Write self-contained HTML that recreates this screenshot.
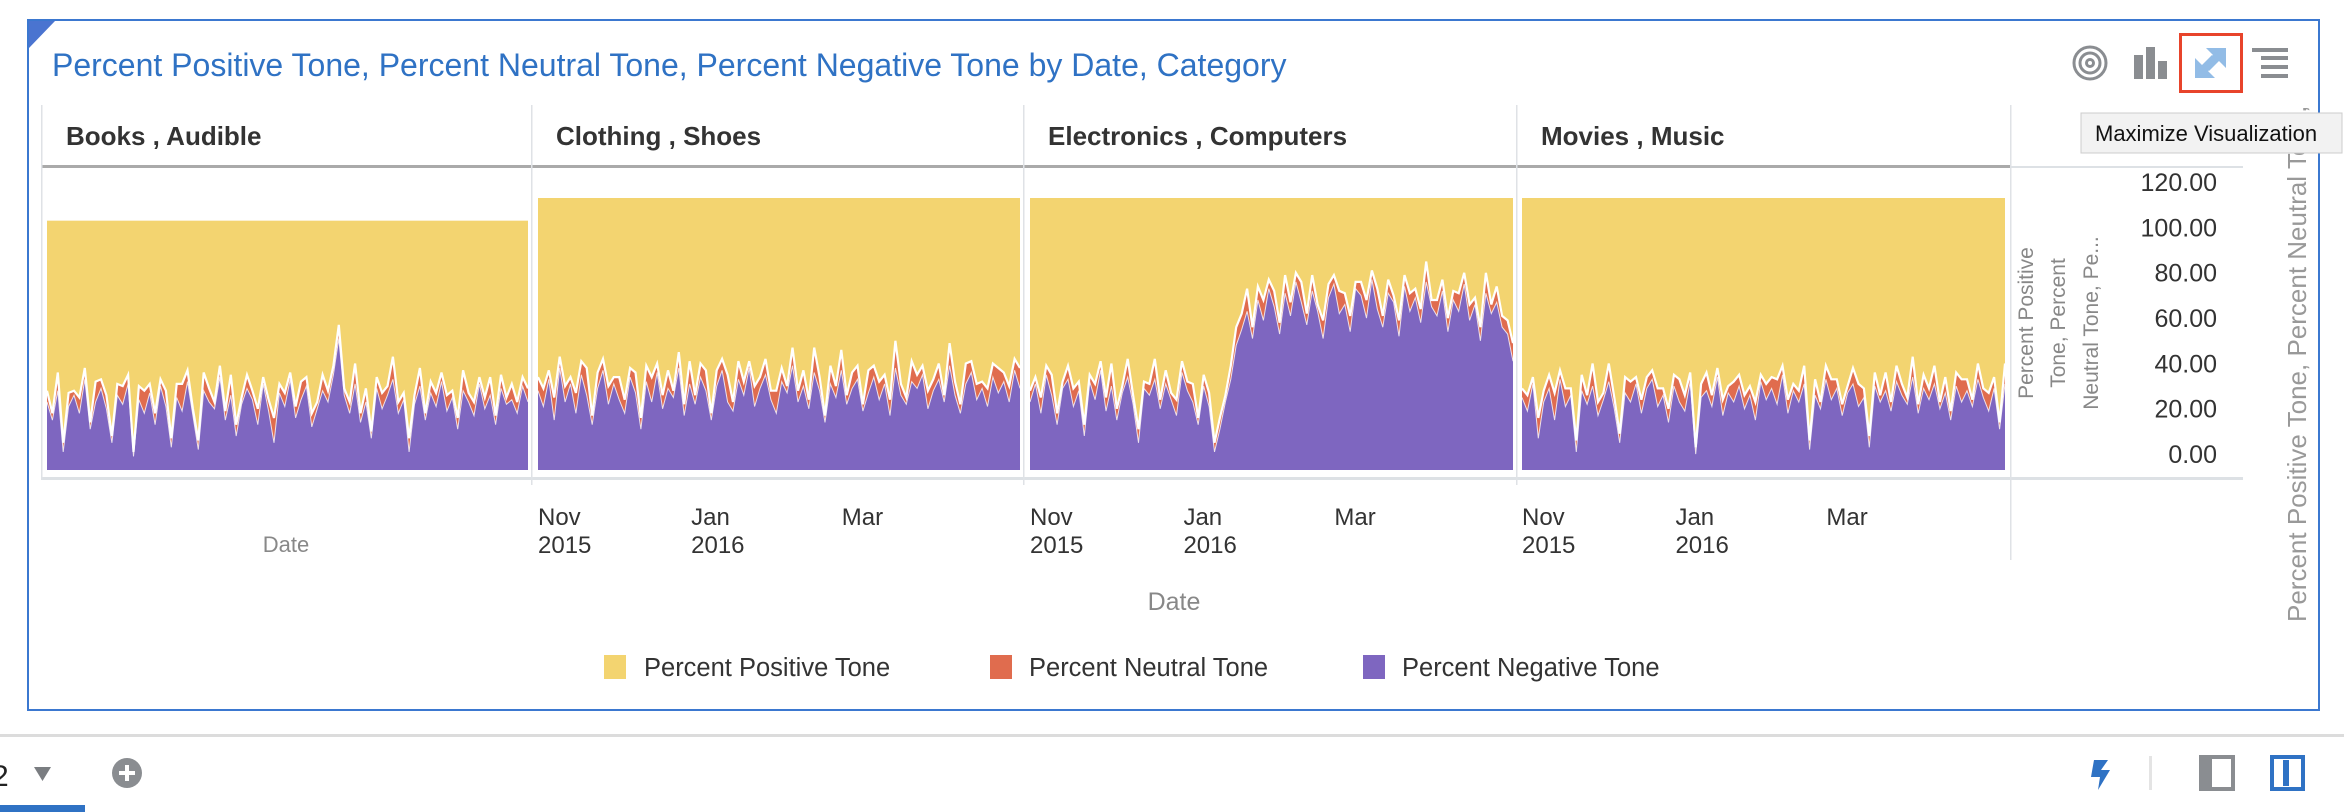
<!DOCTYPE html>
<html><head><meta charset="utf-8">
<style>
html,body{margin:0;padding:0;background:#fff;}
body{width:2344px;height:812px;overflow:hidden;position:relative;font-family:"Liberation Sans",sans-serif;}
svg{position:absolute;left:0;top:0;}
</style></head>
<body>
<svg id="chart" width="2344" height="812" viewBox="0 0 2344 812" font-family="Liberation Sans, sans-serif">
  <defs><clipPath id="titleClip"><rect x="2270" y="108" width="60" height="600"/></clipPath></defs>
  <rect x="28" y="20" width="2291" height="690" fill="#fff" stroke="#3b78d0" stroke-width="2"/>
  <polygon points="29,21 55,21 29,48" fill="#4a74d0"/>
  <text x="52" y="76" font-size="32" fill="#2f72c4">Percent Positive Tone, Percent Neutral Tone, Percent Negative Tone by Date, Category</text>

  <g fill="none" stroke="#8a8d91" stroke-width="3">
    <circle cx="2090" cy="63" r="16"/><circle cx="2090" cy="63" r="10"/><circle cx="2090" cy="63" r="3.5"/>
  </g>
  <g fill="#8a8d91">
    <rect x="2134" y="55" width="9" height="24"/><rect x="2146" y="47" width="9" height="32"/><rect x="2158" y="61" width="9" height="18"/>
  </g>
  <g>
    <rect x="2180.5" y="34.5" width="61" height="57" fill="#fff" stroke="#e8442b" stroke-width="3"/>
    <polygon points="2226,48 2226,68 2219,61 2209,71 2203,65 2213,55 2206,48" fill="#92bce6"/>
    <polygon points="2195,78 2195,58 2202,65 2212,55 2218,61 2208,71 2215,78" fill="#92bce6"/>
  </g>
  <g fill="#8a8d91">
    <rect x="2252" y="48" width="36" height="4"/><rect x="2261" y="56" width="27" height="4"/><rect x="2261" y="65" width="27" height="4"/><rect x="2261" y="74" width="27" height="4"/>
  </g>

  <g id="facets"></g>
  <g id="axes"></g>

  <g clip-path="url(#titleClip)">
  <text transform="translate(2306,622) rotate(-90)" font-size="26" fill="#999">Percent Positive Tone, Percent Neutral Tone, Percent Negative Tone</text>
  </g>

  <g>
    <rect x="2081" y="113" width="261" height="40" fill="#f2f2f2" stroke="#ccc" stroke-width="1"/>
    <text x="2095" y="141" font-size="22" fill="#111">Maximize Visualization</text>
  </g>

  <g>
    <g><rect x="604" y="655" width="22" height="24" fill="#f3d470"/><text x="644" y="676" font-size="25.5" fill="#333">Percent Positive Tone</text></g>
    <g><rect x="990" y="655" width="22" height="24" fill="#e06c4e"/><text x="1029" y="676" font-size="25.5" fill="#333">Percent Neutral Tone</text></g>
    <g><rect x="1363" y="655" width="22" height="24" fill="#7e66c0"/><text x="1402" y="676" font-size="25.5" fill="#333">Percent Negative Tone</text></g>
  </g>

  <rect x="0" y="734" width="2344" height="3" fill="#dcdcdc"/>
  <text x="-8" y="786" font-size="30" fill="#222">2</text>
  <polygon points="34,767 51,767 42.5,781" fill="#7a7d81"/>
  <g><circle cx="127" cy="773" r="15" fill="#8a8d91"/><rect x="119" y="771" width="16" height="4" fill="#fff"/><rect x="125" y="765" width="4" height="16" fill="#fff"/></g>
  <rect x="0" y="805" width="85" height="7" fill="#2f72c4"/>
  <polygon points="2094,760 2108,760 2101,770 2110,770 2098,790 2100,777 2091,777" fill="#2f72c4"/>
  <rect x="2149" y="756" width="3" height="34" fill="#e4e4e4"/>
  <g><rect x="2201" y="757" width="32" height="32" fill="none" stroke="#8a8d91" stroke-width="4"/><rect x="2201" y="757" width="11" height="32" fill="#8a8d91"/></g>
  <g><rect x="2272" y="757" width="31" height="32" fill="none" stroke="#2f72c4" stroke-width="4"/><rect x="2283" y="760" width="6" height="26" fill="#2f72c4"/></g>
</svg>
<script>
const categories = ["Books , Audible","Clothing , Shoes","Electronics , Computers","Movies , Music"];
const totals = [110,120,120,120];
const negBooks = [30,22,35,8,28,33,25,40,18,30,36,27,12,33,29,38,6,31,25,34,20,37,28,10,32,26,39,24,9,35,30,27,41,22,33,15,29,36,31,20,38,26,12,34,28,40,23,31,37,19,27,35,30,42,58,33,25,38,21,30,14,36,27,33,40,25,31,8,29,37,22,34,28,39,26,32,18,35,30,24,38,27,33,20,36,29,31,25,37,30];
const neuBooks = [5,3,8,4,6,2,7,5,3,9,4,6,3,5,8,4,2,6,10,4,5,3,7,4,6,12,5,3,4,8,6,3,5,4,9,5,3,6,4,7,3,5,11,4,6,3,5,8,4,6,3,7,5,4,6,3,5,9,4,6,3,5,7,4,10,5,3,6,4,8,3,5,6,4,7,3,5,9,4,6,3,5,8,4,6,3,7,5,4,6];
const negClothing = [35,28,40,22,45,30,38,25,42,33,20,36,44,29,38,31,25,41,34,18,39,30,43,27,36,32,45,24,38,29,41,35,22,37,44,30,26,40,33,45,28,36,42,31,25,39,34,46,30,37,27,43,35,21,38,32,44,29,36,40,26,34,41,31,38,24,45,33,29,39,36,42,27,35,40,30,46,33,25,38,43,31,36,28,41,34,39,30,44,36];
const neuClothing = [6,8,4,10,5,7,3,9,6,12,4,7,5,8,3,10,6,4,9,5,7,11,4,6,8,3,7,5,10,4,6,9,3,7,5,12,4,8,6,3,9,5,7,4,10,6,3,8,5,7,4,11,6,3,8,5,9,4,7,6,3,10,5,8,4,7,12,5,3,9,6,4,8,5,7,3,10,6,4,9,5,7,3,8,6,11,4,7,5,9];
const negElectronics = [30,38,25,42,33,20,36,40,28,35,15,39,31,44,26,37,22,34,41,29,12,36,33,40,27,38,31,24,43,35,30,20,37,28,8,18,30,40,55,62,70,58,75,66,80,72,60,78,68,83,74,64,79,70,58,76,82,69,73,61,80,77,67,84,71,63,78,74,59,81,70,76,65,83,72,68,79,61,75,70,82,66,73,57,78,69,74,63,60,48];
const neuElectronics = [5,3,7,4,9,5,3,6,8,4,5,3,7,4,6,10,5,3,8,4,6,3,5,9,4,6,3,7,5,4,8,3,5,6,4,5,3,6,8,7,10,5,6,9,4,7,5,8,6,4,9,5,7,3,8,6,4,10,5,7,3,6,8,4,9,5,6,3,7,5,8,4,6,9,3,7,5,6,4,8,5,7,3,6,9,4,7,5,6,8];
const negMovies = [32,26,38,14,30,36,22,40,28,33,8,35,29,37,24,31,39,27,12,34,30,38,25,36,40,28,33,21,37,30,26,39,7,32,35,28,41,24,34,30,37,27,33,22,39,31,36,29,42,25,35,30,38,9,33,27,40,31,36,24,34,38,28,32,10,37,30,35,26,39,33,29,41,25,36,31,38,27,34,22,37,30,35,28,40,32,26,36,18,38];
const neuMovies = [4,7,3,9,5,6,12,4,8,3,5,7,4,10,6,3,8,5,4,7,9,3,6,5,4,8,3,6,5,10,7,4,3,6,8,5,4,7,3,9,5,6,4,8,3,7,5,11,4,6,3,5,8,4,7,3,6,9,4,5,3,7,10,4,5,6,3,8,4,7,5,3,9,4,6,5,8,3,7,4,6,10,5,3,7,4,8,5,3,9];
const yTicks = [0,20,40,60,80,100,120];
const xTickLabels = [["Nov","2015"],["Jan","2016"],["Mar",""]];
const xTickDays = [0,61,121];

const NS="http://www.w3.org/2000/svg";
const negSeries=[negBooks,negClothing,negElectronics,negMovies];
const neuSeries=[neuBooks,neuClothing,neuElectronics,neuMovies];
const colLeft=[42,532,1024,1517,2011];
const plotX=[[47,528],[538,1020],[1030,1513],[1522,2005]];
const Y0=470, Y1=198, YMAX=120, DAYS=192;
function yS(v){return Y0-(v/YMAX)*(Y0-Y1);}
function mk(tag,attrs,parent){const e=document.createElementNS(NS,tag);for(const k in attrs)e.setAttribute(k,attrs[k]);parent.appendChild(e);return e;}
const facets=document.getElementById('facets');
const axes=document.getElementById('axes');

const hl=mk('rect',{x:42,y:165,width:1969,height:3,fill:'#aaa'},axes);


const hl2=mk('rect',{x:2011,y:166,width:232,height:2,fill:'#dde1e5'},axes);


const bl=mk('rect',{x:42,y:477,width:2201,height:3,fill:'#dde1e5'},axes);



for(let c=0;c<=4;c++){
  const d=mk('rect',{x:colLeft[c]-1,y:105,width:1.5,height:c===0?375:(c===4?455:380),fill:'#dfe2e6'},axes);
  
  
}

categories.forEach((cat,i)=>{
  const g=mk('g',{},facets);
  
  
  const t=mk('text',{x:colLeft[i]+24,y:145,'font-size':26,'font-weight':'bold',fill:'#333'},g);
  t.textContent=cat;
  
  
  const neg=negSeries[i], neu=neuSeries[i], n=Math.min(neg.length,neu.length);
  const [xa,xb]=plotX[i];
  const xS=k=>xa+(n===1?0:k*(xb-xa)/(n-1));
  const pos=mk('rect',{x:xa,y:yS(totals[i]),width:xb-xa,height:Y0-yS(totals[i]),fill:'#f3d470'},g);
  
  
  let topN='',topG='';
  for(let k=0;k<n;k++){
    topN+=(k?'L':'M')+xS(k).toFixed(1)+','+yS(neg[k]+neu[k]).toFixed(1);
    topG+=(k?'L':'M')+xS(k).toFixed(1)+','+yS(neg[k]).toFixed(1);
  }
  const aN=mk('path',{d:topN+'L'+xb+','+Y0+'L'+xa+','+Y0+'Z',fill:'#e06c4e'},g);
  
  
  const aG=mk('path',{d:topG+'L'+xb+','+Y0+'L'+xa+','+Y0+'Z',fill:'#7e66c0'},g);
  
  
  const l1=mk('path',{d:topN,fill:'none',stroke:'#fff','stroke-width':2.2},g);
  
  
  const l2=mk('path',{d:topG,fill:'none',stroke:'#fff','stroke-width':1,opacity:0.8},g);
  
  
  if(i===0){
    const dl=mk('text',{x:286,y:552,'font-size':22,fill:'#888','text-anchor':'middle'},g);
    dl.textContent='Date';
    
    
  } else {
    xTickLabels.forEach((lab,j)=>{
      const x=xa+xTickDays[j]/DAYS*(xb-xa);
      const t1=mk('text',{x:x,y:525,'font-size':24,fill:'#333'},g);
      t1.textContent=lab[0];
      
      
      if(lab[1]){
        const t2=mk('text',{x:x,y:553,'font-size':24,fill:'#333'},g);
        t2.textContent=lab[1];
        
        
      }
    });
  }
});

yTicks.forEach(v=>{
  const t=mk('text',{x:2217,y:yS(v)-7,'font-size':25,fill:'#333','text-anchor':'end'},axes);
  t.textContent=v.toFixed(2);
  
  
});
[['Percent Positive',2033],['Tone, Percent',2065],['Neutral Tone, Pe...',2098]].forEach(([s,x])=>{
  const t=mk('text',{transform:'translate('+x+',323) rotate(-90)','font-size':21,fill:'#888','text-anchor':'middle'},axes);
  t.textContent=s;
  
  
});
const dt=mk('text',{x:1174,y:610,'font-size':25,fill:'#888','text-anchor':'middle'},axes);
dt.textContent='Date';


</script>
</body></html>
